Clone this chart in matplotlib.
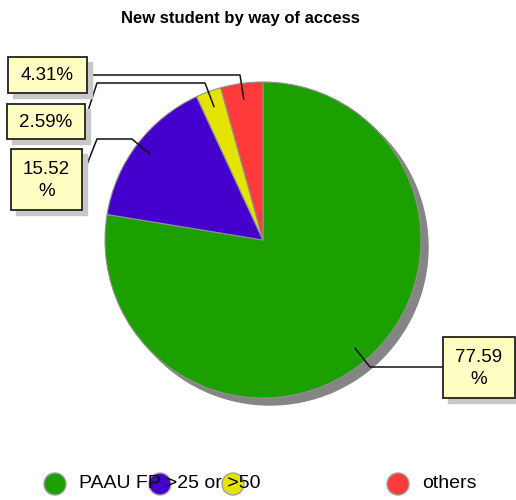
import numpy as np
import matplotlib
matplotlib.use('Agg')
import matplotlib.pyplot as plt
from matplotlib.patches import Rectangle, Circle

plt.rcParams['font.family'] = ['Liberation Sans', 'DejaVu Sans']

# Data
CATEGORIES = ['PAAU FP', '>25', '>45', 'others']
SHARES = [77.59, 15.52, 2.59, 4.31]
COLORS = ['#1ba000', '#4400cc', '#e4e400', '#ff3a3a']
LABELS = ['77.59\n%', '15.52\n%', '2.59%', '4.31%']
LEGEND_TEXT = ['PAAU FP >25 or >50', '', '', 'others']

# Layout in pixel space (figure is 516x500)
CENTER = (263, 240)
RADIUS = 158
# label boxes: x0, y0, x1, y1
BOXES = [(443, 337, 515, 398), (11, 149, 82, 210), (7, 104, 85, 139), (8, 57, 87, 93)]
# leader line points from the box edge to the elbow
ELBOWS = [[(443, 367), (370, 367)],
          [(82, 177), (97, 139), (132, 139)],
          [(85, 120), (97, 83), (205, 83)],
          [(87, 75), (240, 75)]]
LEGEND_X = [55, 160, 233, 398]
LEGEND_Y = 484


def main():
    fig = plt.figure(figsize=(5.16, 5.0), dpi=100)
    ax = fig.add_axes([0, 0, 1, 1])

    # shadow
    ax.add_patch(Circle((CENTER[0] + 7, CENTER[1] + 7), RADIUS, color='#858585', zorder=1))

    wedges, _ = ax.pie(SHARES, colors=COLORS, startangle=-90, counterclock=True,
                       center=CENTER, radius=RADIUS,
                       wedgeprops=dict(edgecolor='#909090', linewidth=0.8, zorder=2))
    ax.set_xlim(0, 516)
    ax.set_ylim(500, 0)
    ax.set_aspect('equal')
    ax.axis('off')

    for w, lab, box, elbow in zip(wedges, LABELS, BOXES, ELBOWS):
        mid = np.deg2rad((w.theta1 + w.theta2) / 2)
        anchor = (CENTER[0] + 0.9 * RADIUS * np.cos(mid), CENTER[1] + 0.9 * RADIUS * np.sin(mid))
        pts = elbow + [anchor]
        ax.plot([p[0] for p in pts], [p[1] for p in pts], color='#111111', lw=1.1, zorder=4)
        x0, y0, x1, y1 = box
        ax.add_patch(Rectangle((x0 + 5, y0 + 5), x1 - x0, y1 - y0, color='#c8c8c8', zorder=4))
        ax.add_patch(Rectangle((x0, y0), x1 - x0, y1 - y0, facecolor='#ffffc4',
                               edgecolor='#222222', lw=1.3, zorder=5))
        ax.text((x0 + x1) / 2, (y0 + y1) / 2 + 1, lab, ha='center', va='center',
                fontsize=13.5, linespacing=1.35, zorder=6)

    ax.text(240, 18, 'New student by way of access', ha='center', va='center',
            fontsize=12, fontweight='bold')

    # legend
    for x, c, t in zip(LEGEND_X, COLORS, LEGEND_TEXT):
        if t:
            ax.text(x + 24, LEGEND_Y, t, ha='left', va='center', fontsize=14, zorder=6)
    for x, c in zip(LEGEND_X, COLORS):
        ax.add_patch(Circle((x, LEGEND_Y), 11, facecolor=c, edgecolor='#a0a0a0', lw=1, zorder=5))

    fig.savefig('out.png', dpi=100)
    plt.close(fig)


if __name__ == '__main__':
    main()
